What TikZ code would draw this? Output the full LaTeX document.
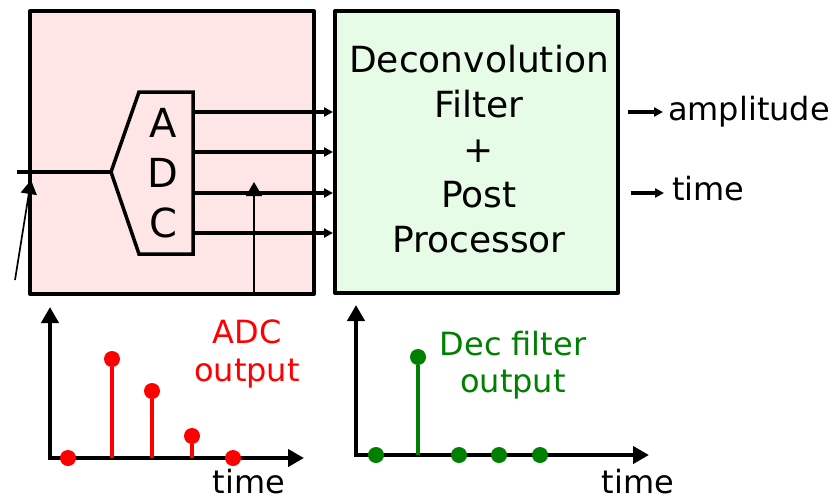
\documentclass[tikz,border=0pt]{standalone}
\usepackage{fontspec}
\setmainfont{DejaVu Sans}
\usetikzlibrary{arrows.meta}
\definecolor{pinkfill}{HTML}{FFE6E6}
\definecolor{greenfill}{HTML}{E6FCE6}
\definecolor{stemred}{HTML}{FF0000}
\definecolor{stemgreen}{HTML}{008000}
\begin{document}
\begin{tikzpicture}[x=1pt,y=-1pt,
  blockbox/.style={draw=black, line width=4pt, inner sep=0pt, line join=round},
  sigline/.style={line width=3.2pt, -{Triangle[length=9pt,width=9pt]}},
  thinarrow/.style={line width=1.7pt, -{Triangle[length=14pt,width=16pt]}},
  axisline/.style={line width=4pt, line join=miter, {Triangle[length=16pt,width=17pt]}-{Triangle[length=16pt,width=17pt]}},
  bigtext/.style={inner sep=0pt, anchor=base, font=\fontsize{36}{40}\selectfont},
  adctext/.style={inner sep=0pt, anchor=base, font=\fontsize{40}{46}\selectfont},
  smalltext/.style={inner sep=0pt, anchor=base, font=\fontsize{32}{38}\selectfont},
  reddot/.style={circle, fill=stemred, inner sep=0pt, minimum size=16pt},
  greendot/.style={circle, fill=stemgreen, inner sep=0pt, minimum size=16pt},
  redstem/.style={draw=stemred, line width=3.5pt},
  greenstem/.style={draw=stemgreen, line width=3.5pt}]
\useasboundingbox (0,0) rectangle (835,499);
\fill[white] (0,0) rectangle (835,499);

% blocks
\node[blockbox, fill=pinkfill, minimum width=284pt, minimum height=283pt] (adcbox) at (172,152.5) {};
\node[blockbox, fill=greenfill, minimum width=283pt, minimum height=282pt] (decbox) at (476.5,152) {};

% ADC shape
\coordinate (adcin) at (111,172);
\draw[line width=3.5pt, line join=miter, fill=pinkfill] (adcin) -- (139,92) -- (193,92) -- (193,254) -- (139,254) -- cycle;
\node[adctext] (la) at (163,137) {A};
\node[adctext] (ld) at (163,187) {D};
\node[adctext] (lc) at (163,237) {C};

% input
\coordinate (inl) at (17,172);
\draw[line width=3.5pt] (inl) -- (adcin);
\coordinate (ta) at (15,280);
\coordinate (tb) at (31,180);
\draw[thinarrow] (ta) -- (tb);

% ADC outputs
\foreach \y/\n in {112/1,152/2,193/3,233/4}{
  \coordinate (o\n a) at (193,\y);
  \coordinate (o\n b) at (333,\y);
  \draw[sigline] (o\n a) -- (o\n b);
}
\coordinate (va) at (254,293);
\coordinate (vb) at (254,182);
\draw[thinarrow] (va) -- (vb);

% deconvolution text
\node[bigtext] (d1) at (479,72) {Deconvolution};
\node[bigtext] (d2) at (479,117) {Filter};
\node[bigtext] (d3) at (479,162) {+};
\node[bigtext] (d4) at (479,207) {Post};
\node[bigtext] (d5) at (479,252) {Processor};

% outputs on right
\coordinate (r1a) at (628,112);
\coordinate (r1b) at (663,112);
\draw[sigline] (r1a) -- (r1b);
\node[smalltext, anchor=base west] (amp) at (668,120) {amplitude};
\coordinate (r2a) at (631,193);
\coordinate (r2b) at (664,193);
\draw[sigline] (r2a) -- (r2b);
\node[smalltext, anchor=base west] (tim) at (672,200) {time};

% ADC output plot
\coordinate (p1y) at (50,307);
\coordinate (p1o) at (50,458);
\coordinate (p1x) at (304,458);
\draw[axisline] (p1y) -- (p1o) -- (p1x);
\node[reddot] (a1) at (68,458) {};
\node[reddot] (a2) at (112,359) {};
\node[reddot] (a3) at (152,391) {};
\node[reddot] (a4) at (192,436) {};
\node[reddot] (a5) at (233,458) {};
\coordinate (a2b) at (112,458);
\coordinate (a3b) at (152,458);
\coordinate (a4b) at (192,458);
\draw[redstem] (a2b) -- (a2);
\draw[redstem] (a3b) -- (a3);
\draw[redstem] (a4b) -- (a4);
\node[smalltext, text=stemred] (adcl1) at (247,343) {ADC};
\node[smalltext, text=stemred] (adcl2) at (247,381) {output};
\node[smalltext] (t1) at (249,493) {time};

% Dec filter output plot
\coordinate (p2y) at (356,305);
\coordinate (p2o) at (356,455);
\coordinate (p2x) at (649,455);
\draw[axisline] (p2y) -- (p2o) -- (p2x);
\node[greendot] (g1) at (376,455) {};
\node[greendot] (g2) at (418,357) {};
\node[greendot] (g3) at (459,455) {};
\node[greendot] (g4) at (499,455) {};
\node[greendot] (g5) at (540,455) {};
\coordinate (g2b) at (418,455);
\draw[greenstem] (g2b) -- (g2);
\node[smalltext, text=stemgreen] (decl1) at (513,355) {Dec filter};
\node[smalltext, text=stemgreen] (decl2) at (513,392) {output};
\node[smalltext] (t2) at (638,493) {time};
\end{tikzpicture}
\end{document}
